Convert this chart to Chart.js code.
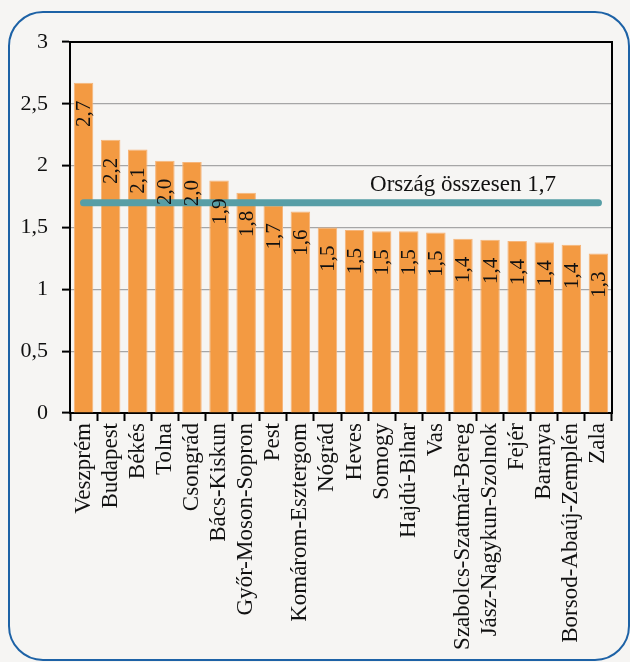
<!DOCTYPE html>
<html>
<head>
<meta charset="utf-8">
<script src="https://cdn.jsdelivr.net/npm/chart.js@4"></script>
<style>
  body { margin: 0; background: #f6f5f3; }
  canvas { display: block; }
</style>
</head>
<body>
<canvas id="chart" width="630" height="662"></canvas>
<script>
const counties = ['Veszprém', 'Budapest', 'Békés', 'Tolna', 'Csongrád', 'Bács-Kiskun',
  'Győr-Moson-Sopron', 'Pest', 'Komárom-Esztergom', 'Nógrád', 'Heves', 'Somogy',
  'Hajdú-Bihar', 'Vas', 'Szabolcs-Szatmár-Bereg', 'Jász-Nagykun-Szolnok', 'Fejér',
  'Baranya', 'Borsod-Abaúj-Zemplén', 'Zala'];
const values = [2.67, 2.21, 2.13, 2.04, 2.03, 1.88, 1.78, 1.68, 1.63, 1.50, 1.48, 1.47,
  1.47, 1.46, 1.41, 1.40, 1.39, 1.38, 1.36, 1.29];
const countryAvg = 1.7;
const countryLabel = 'Ország összesen';
const yTicks = [0, 0.5, 1, 1.5, 2, 2.5, 3];

const FONT = '"Liberation Serif", "DejaVu Serif", serif';
const fmt = v => v.toFixed(1).replace('.', ',');

// rounded blue frame behind everything
const framePlugin = {
  id: 'frame',
  beforeDraw(chart) {
    const ctx = chart.ctx;
    ctx.save();
    ctx.fillStyle = '#f6f5f3';
    ctx.fillRect(0, 0, chart.width, chart.height);
    ctx.beginPath();
    ctx.roundRect(9, 12, 620, 648, 34);
    ctx.strokeStyle = '#1d62a6';
    ctx.lineWidth = 2;
    ctx.stroke();
    ctx.restore();
  },
  afterDraw(chart) {
    // top and right edge of the plot box
    const { ctx, chartArea: a } = chart;
    ctx.save();
    ctx.strokeStyle = '#000';
    ctx.lineWidth = 2;
    ctx.beginPath();
    ctx.moveTo(a.left, a.top);
    ctx.lineTo(a.right, a.top);
    ctx.lineTo(a.right, a.bottom);
    ctx.stroke();
    ctx.restore();
  }
};

// vertical value labels inside the bars, plus the national average caption
const labelPlugin = {
  id: 'barLabels',
  afterDatasetsDraw(chart) {
    const ctx = chart.ctx;
    const meta = chart.getDatasetMeta(1);
    ctx.save();
    ctx.font = '21px ' + FONT;
    ctx.fillStyle = '#111';
    ctx.textAlign = 'right';
    ctx.textBaseline = 'middle';
    meta.data.forEach((bar, i) => {
      ctx.save();
      ctx.translate(bar.x + 1, bar.y + 18);
      ctx.rotate(-Math.PI / 2);
      ctx.fillText(fmt(values[i]), 0, 0);
      ctx.restore();
    });
    const x = chart.scales.x.getPixelForValue(14);
    const y = chart.scales.y.getPixelForValue(countryAvg);
    ctx.textAlign = 'center';
    ctx.textBaseline = 'alphabetic';
    ctx.font = '23px ' + FONT;
    ctx.fillText(countryLabel + ' ' + fmt(countryAvg), x, y - 12);
    ctx.restore();
  }
};

new Chart(document.getElementById('chart'), {
  data: {
    labels: counties,
    datasets: [{
      type: 'line',
      data: [{ x: counties[0], y: countryAvg }, { x: counties[counties.length - 1], y: countryAvg }],
      borderColor: '#579ea6',
      borderWidth: 7,
      borderCapStyle: 'round',
      pointRadius: 0,
      order: 0
    }, {
      type: 'bar',
      data: values,
      backgroundColor: '#f39a42',
      borderColor: '#f6b57a',
      borderWidth: 1,
      categoryPercentage: 1,
      barPercentage: 0.72,
      order: 1
    }]
  },
  options: {
    responsive: false,
    animation: false,
    layout: { padding: { top: 42, right: 18, left: 0, bottom: 0 } },
    plugins: { legend: { display: false }, tooltip: { enabled: false } },
    scales: {
      x: {
        grid: { offset: true, drawOnChartArea: false, tickLength: 8, tickColor: '#000', tickWidth: 2 },
        border: { color: '#000', width: 2 },
        ticks: {
          minRotation: 90, maxRotation: 90, autoSkip: false, padding: 2,
          color: '#111', font: { family: FONT, size: 23 }
        },
        afterFit(s) { s.height = 249; }
      },
      y: {
        min: 0, max: 3,
        afterBuildTicks(s) { s.ticks = yTicks.map(v => ({ value: v })); },
        grid: {
          color: ctx => ctx.tick && ctx.tick.value === 3 ? '#000' : '#a6a6a6',
          lineWidth: 1.2, tickLength: 8, tickColor: '#000', tickWidth: 2
        },
        border: { color: '#000', width: 2 },
        ticks: {
          padding: 14, color: '#111', font: { family: FONT, size: 22 },
          callback: v => String(v).replace('.', ',')
        },
        afterFit(s) { s.width = 70; }
      }
    }
  },
  plugins: [framePlugin, labelPlugin]
});
</script>
</body>
</html>
